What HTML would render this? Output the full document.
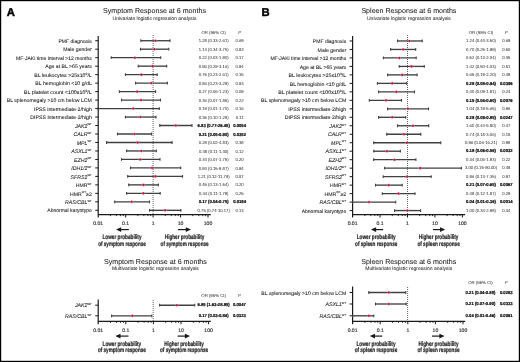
<!DOCTYPE html><html><head><meta charset="utf-8"><style>html,body{margin:0;padding:0;background:#fff;width:520px;height:362px;overflow:hidden}svg{display:block;will-change:transform}</style></head><body><svg width="520" height="362" viewBox="0 0 520 362" font-family='"Liberation Sans", sans-serif' fill="#1a1a1a" text-rendering="geometricPrecision"><g stroke-width="0.15">
<rect x="0" y="0" width="520" height="362" fill="#fff"/>
<rect x="0.6" y="0.6" width="518.8" height="360.8" fill="none" stroke="#000" stroke-width="1.2"/>
<text x="6.80" y="16.30" font-size="11.3" font-weight="bold" fill="#000" stroke="#000" stroke-width="0.45">A</text>
<text x="261.40" y="16.40" font-size="11.3" font-weight="bold" fill="#000" stroke="#000" stroke-width="0.45">B</text>
<text x="154.50" y="13.40" font-size="7.1" text-anchor="middle" stroke="#1a1a1a" stroke-width="0.06">Symptom Response at 6 months</text>
<text x="154.50" y="19.80" font-size="5.04" text-anchor="middle" stroke="#1a1a1a" stroke-width="0.02">Univariate logistic regression analysis</text>
<text x="213.70" y="34.20" font-size="4.3" text-anchor="middle" fill="#333" stroke="#333" stroke-width="0.02">OR (95% CI)</text>
<text x="239.60" y="34.20" font-size="4.3" text-anchor="middle" font-style="italic" fill="#333" stroke="#333" stroke-width="0.02">P</text>
<text x="91.80" y="42.87" font-size="5.15" text-anchor="end" stroke="#1a1a1a" stroke-width="0.07" textLength="33.35" lengthAdjust="spacingAndGlyphs"><tspan>PMF diagnosis</tspan></text>
<text x="213.70" y="42.32" font-size="4.35" text-anchor="middle" fill="#333" stroke="#333" textLength="29.88" lengthAdjust="spacingAndGlyphs" stroke-width="0.02">1.28 (0.33-2.61)</text>
<text x="239.60" y="42.32" font-size="4.35" text-anchor="middle" fill="#333" stroke="#333" textLength="8.17" lengthAdjust="spacingAndGlyphs" stroke-width="0.02">0.69</text>
<text x="91.80" y="51.35" font-size="5.15" text-anchor="end" stroke="#1a1a1a" stroke-width="0.07"><tspan>Male gender</tspan></text>
<text x="213.70" y="50.80" font-size="4.35" text-anchor="middle" fill="#333" stroke="#333" textLength="29.88" lengthAdjust="spacingAndGlyphs" stroke-width="0.02">1.14 (0.34-3.75)</text>
<text x="239.60" y="50.80" font-size="4.35" text-anchor="middle" fill="#333" stroke="#333" textLength="8.17" lengthAdjust="spacingAndGlyphs" stroke-width="0.02">0.83</text>
<text x="91.80" y="59.83" font-size="5.15" text-anchor="end" stroke="#1a1a1a" stroke-width="0.07" textLength="75.81" lengthAdjust="spacingAndGlyphs"><tspan>MF-JAKi time interval &gt;12 months</tspan></text>
<text x="213.70" y="59.28" font-size="4.35" text-anchor="middle" fill="#333" stroke="#333" textLength="29.88" lengthAdjust="spacingAndGlyphs" stroke-width="0.02">0.22 (0.03-1.90)</text>
<text x="239.60" y="59.28" font-size="4.35" text-anchor="middle" fill="#333" stroke="#333" textLength="8.17" lengthAdjust="spacingAndGlyphs" stroke-width="0.02">0.17</text>
<text x="91.80" y="68.31" font-size="5.15" text-anchor="end" stroke="#1a1a1a" stroke-width="0.07"><tspan>Age at BL &gt;65 years</tspan></text>
<text x="213.70" y="67.76" font-size="4.35" text-anchor="middle" fill="#333" stroke="#333" textLength="29.88" lengthAdjust="spacingAndGlyphs" stroke-width="0.02">0.96 (0.29-3.16)</text>
<text x="239.60" y="67.76" font-size="4.35" text-anchor="middle" fill="#333" stroke="#333" textLength="8.17" lengthAdjust="spacingAndGlyphs" stroke-width="0.02">0.94</text>
<text x="91.80" y="76.79" font-size="5.15" text-anchor="end" stroke="#1a1a1a" stroke-width="0.07" textLength="57.58" lengthAdjust="spacingAndGlyphs"><tspan>BL leukocytes &gt;25x10</tspan><tspan dy="-2.1" font-size="3.30" font-style="normal">9</tspan><tspan dy="2.1">/L</tspan></text>
<text x="213.70" y="76.24" font-size="4.35" text-anchor="middle" fill="#333" stroke="#333" textLength="29.88" lengthAdjust="spacingAndGlyphs" stroke-width="0.02">0.75 (0.23-2.61)</text>
<text x="239.60" y="76.24" font-size="4.35" text-anchor="middle" fill="#333" stroke="#333" textLength="8.17" lengthAdjust="spacingAndGlyphs" stroke-width="0.02">0.15</text>
<text x="91.80" y="85.27" font-size="5.15" text-anchor="end" stroke="#1a1a1a" stroke-width="0.07" textLength="56.52" lengthAdjust="spacingAndGlyphs"><tspan>BL hemoglobin &lt;10 g/dL</tspan></text>
<text x="213.70" y="84.72" font-size="4.35" text-anchor="middle" fill="#333" stroke="#333" textLength="29.88" lengthAdjust="spacingAndGlyphs" stroke-width="0.02">0.86 (0.23-3.29)</text>
<text x="239.60" y="84.72" font-size="4.35" text-anchor="middle" fill="#333" stroke="#333" textLength="8.17" lengthAdjust="spacingAndGlyphs" stroke-width="0.02">0.83</text>
<text x="91.80" y="93.75" font-size="5.15" text-anchor="end" stroke="#1a1a1a" stroke-width="0.07" textLength="67.97" lengthAdjust="spacingAndGlyphs"><tspan>BL platelet count &lt;100x10</tspan><tspan dy="-2.1" font-size="3.30" font-style="normal">9</tspan><tspan dy="2.1">/L</tspan></text>
<text x="213.70" y="93.20" font-size="4.35" text-anchor="middle" fill="#333" stroke="#333" textLength="29.88" lengthAdjust="spacingAndGlyphs" stroke-width="0.02">0.27 (0.06-1.23)</text>
<text x="239.60" y="93.20" font-size="4.35" text-anchor="middle" fill="#333" stroke="#333" textLength="8.17" lengthAdjust="spacingAndGlyphs" stroke-width="0.02">0.09</text>
<text x="91.80" y="102.23" font-size="5.15" text-anchor="end" stroke="#1a1a1a" stroke-width="0.07" textLength="85.08" lengthAdjust="spacingAndGlyphs"><tspan>BL splenomegaly &gt;10 cm below LCM</tspan></text>
<text x="213.70" y="101.68" font-size="4.35" text-anchor="middle" fill="#333" stroke="#333" textLength="29.88" lengthAdjust="spacingAndGlyphs" stroke-width="0.02">0.36 (0.07-1.85)</text>
<text x="239.60" y="101.68" font-size="4.35" text-anchor="middle" fill="#333" stroke="#333" textLength="8.17" lengthAdjust="spacingAndGlyphs" stroke-width="0.02">0.22</text>
<text x="91.80" y="110.71" font-size="5.15" text-anchor="end" stroke="#1a1a1a" stroke-width="0.07" textLength="57.84" lengthAdjust="spacingAndGlyphs"><tspan>IPSS intermediate-2/high</tspan></text>
<text x="213.70" y="110.16" font-size="4.35" text-anchor="middle" fill="#333" stroke="#333" textLength="29.88" lengthAdjust="spacingAndGlyphs" stroke-width="0.02">0.19 (0.01-1.70)</text>
<text x="239.60" y="110.16" font-size="4.35" text-anchor="middle" fill="#333" stroke="#333" textLength="8.17" lengthAdjust="spacingAndGlyphs" stroke-width="0.02">0.16</text>
<text x="91.80" y="119.19" font-size="5.15" text-anchor="end" stroke="#1a1a1a" stroke-width="0.07" textLength="61.42" lengthAdjust="spacingAndGlyphs"><tspan>DIPSS intermediate-2/high</tspan></text>
<text x="213.70" y="118.64" font-size="4.35" text-anchor="middle" fill="#333" stroke="#333" textLength="29.88" lengthAdjust="spacingAndGlyphs" stroke-width="0.02">0.35 (0.10-1.28)</text>
<text x="239.60" y="118.64" font-size="4.35" text-anchor="middle" fill="#333" stroke="#333" textLength="7.86" lengthAdjust="spacingAndGlyphs" stroke-width="0.02">0.11</text>
<text x="91.80" y="127.67" font-size="5.15" text-anchor="end" stroke="#1a1a1a" stroke-width="0.07"><tspan font-style="italic" font-size="5.22">JAK2</tspan><tspan dy="-2.4" font-size="2.8" font-style="normal">WT</tspan></text>
<text x="213.70" y="127.12" font-size="4.35" text-anchor="middle" font-weight="bold" fill="#000" stroke="#000" textLength="32.22" lengthAdjust="spacingAndGlyphs" stroke-width="0.16">6.83 (0.77-26.45)</text>
<text x="239.60" y="127.12" font-size="4.35" text-anchor="middle" font-weight="bold" fill="#000" stroke="#000" textLength="12.84" lengthAdjust="spacingAndGlyphs" stroke-width="0.16">0.0054</text>
<text x="91.80" y="136.15" font-size="5.15" text-anchor="end" stroke="#1a1a1a" stroke-width="0.07"><tspan font-style="italic" font-size="5.22">CALR</tspan><tspan dy="-2.4" font-size="2.8" font-style="normal">WT</tspan></text>
<text x="213.70" y="135.60" font-size="4.35" text-anchor="middle" font-weight="bold" fill="#000" stroke="#000" textLength="29.88" lengthAdjust="spacingAndGlyphs" stroke-width="0.16">0.21 (0.05-0.90)</text>
<text x="239.60" y="135.60" font-size="4.35" text-anchor="middle" font-weight="bold" fill="#000" stroke="#000" textLength="12.84" lengthAdjust="spacingAndGlyphs" stroke-width="0.16">0.0352</text>
<text x="91.80" y="144.63" font-size="5.15" text-anchor="end" stroke="#1a1a1a" stroke-width="0.07"><tspan font-style="italic" font-size="5.22">MPL</tspan><tspan dy="-2.4" font-size="2.8" font-style="normal">WT</tspan></text>
<text x="213.70" y="144.08" font-size="4.35" text-anchor="middle" fill="#333" stroke="#333" textLength="29.88" lengthAdjust="spacingAndGlyphs" stroke-width="0.02">0.28 (0.02-4.83)</text>
<text x="239.60" y="144.08" font-size="4.35" text-anchor="middle" fill="#333" stroke="#333" textLength="8.17" lengthAdjust="spacingAndGlyphs" stroke-width="0.02">0.38</text>
<text x="91.80" y="153.11" font-size="5.15" text-anchor="end" stroke="#1a1a1a" stroke-width="0.07"><tspan font-style="italic" font-size="5.22">ASXL1</tspan><tspan dy="-2.4" font-size="2.8" font-style="normal">WT</tspan></text>
<text x="213.70" y="152.56" font-size="4.35" text-anchor="middle" fill="#333" stroke="#333" textLength="29.57" lengthAdjust="spacingAndGlyphs" stroke-width="0.02">0.38 (0.11-1.30)</text>
<text x="239.60" y="152.56" font-size="4.35" text-anchor="middle" fill="#333" stroke="#333" textLength="8.17" lengthAdjust="spacingAndGlyphs" stroke-width="0.02">0.12</text>
<text x="91.80" y="161.59" font-size="5.15" text-anchor="end" stroke="#1a1a1a" stroke-width="0.07"><tspan font-style="italic" font-size="5.22">EZH2</tspan><tspan dy="-2.4" font-size="2.8" font-style="normal">WT</tspan></text>
<text x="213.70" y="161.04" font-size="4.35" text-anchor="middle" fill="#333" stroke="#333" textLength="29.88" lengthAdjust="spacingAndGlyphs" stroke-width="0.02">0.34 (0.07-1.75)</text>
<text x="239.60" y="161.04" font-size="4.35" text-anchor="middle" fill="#333" stroke="#333" textLength="8.17" lengthAdjust="spacingAndGlyphs" stroke-width="0.02">0.20</text>
<text x="91.80" y="170.07" font-size="5.15" text-anchor="end" stroke="#1a1a1a" stroke-width="0.07"><tspan font-style="italic" font-size="5.22">IDH1/2</tspan><tspan dy="-2.4" font-size="2.8" font-style="normal">WT</tspan></text>
<text x="213.70" y="169.52" font-size="4.35" text-anchor="middle" fill="#333" stroke="#333" textLength="29.88" lengthAdjust="spacingAndGlyphs" stroke-width="0.02">0.93 (0.15-9.87)</text>
<text x="239.60" y="169.52" font-size="4.35" text-anchor="middle" fill="#333" stroke="#333" textLength="8.17" lengthAdjust="spacingAndGlyphs" stroke-width="0.02">0.94</text>
<text x="91.80" y="178.55" font-size="5.15" text-anchor="end" stroke="#1a1a1a" stroke-width="0.07"><tspan font-style="italic" font-size="5.22">SFRS2</tspan><tspan dy="-2.4" font-size="2.8" font-style="normal">WT</tspan></text>
<text x="213.70" y="178.00" font-size="4.35" text-anchor="middle" fill="#333" stroke="#333" textLength="31.91" lengthAdjust="spacingAndGlyphs" stroke-width="0.02">1.21 (0.12-11.79)</text>
<text x="239.60" y="178.00" font-size="4.35" text-anchor="middle" fill="#333" stroke="#333" textLength="8.17" lengthAdjust="spacingAndGlyphs" stroke-width="0.02">0.87</text>
<text x="91.80" y="187.03" font-size="5.15" text-anchor="end" stroke="#1a1a1a" stroke-width="0.07"><tspan>HMR</tspan><tspan dy="-2.4" font-size="2.8" font-style="normal">WT</tspan></text>
<text x="213.70" y="186.48" font-size="4.35" text-anchor="middle" fill="#333" stroke="#333" textLength="29.88" lengthAdjust="spacingAndGlyphs" stroke-width="0.02">0.45 (0.13-1.54)</text>
<text x="239.60" y="186.48" font-size="4.35" text-anchor="middle" fill="#333" stroke="#333" textLength="8.17" lengthAdjust="spacingAndGlyphs" stroke-width="0.02">0.20</text>
<text x="91.80" y="195.51" font-size="5.15" text-anchor="end" stroke="#1a1a1a" stroke-width="0.07"><tspan>HMR</tspan><tspan dy="-2.4" font-size="2.8" font-style="normal">WT</tspan><tspan dy="2.4">≥2</tspan></text>
<text x="213.70" y="194.96" font-size="4.35" text-anchor="middle" fill="#333" stroke="#333" textLength="29.57" lengthAdjust="spacingAndGlyphs" stroke-width="0.02">0.44 (0.11-1.79)</text>
<text x="239.60" y="194.96" font-size="4.35" text-anchor="middle" fill="#333" stroke="#333" textLength="8.17" lengthAdjust="spacingAndGlyphs" stroke-width="0.02">0.25</text>
<text x="91.80" y="203.99" font-size="5.15" text-anchor="end" stroke="#1a1a1a" stroke-width="0.07"><tspan font-style="italic" font-size="5.22">RAS/CBL</tspan><tspan dy="-2.4" font-size="2.8" font-style="normal">WT</tspan></text>
<text x="213.70" y="203.44" font-size="4.35" text-anchor="middle" font-weight="bold" fill="#000" stroke="#000" textLength="29.88" lengthAdjust="spacingAndGlyphs" stroke-width="0.16">0.17 (0.04-0.75)</text>
<text x="239.60" y="203.44" font-size="4.35" text-anchor="middle" font-weight="bold" fill="#000" stroke="#000" textLength="12.84" lengthAdjust="spacingAndGlyphs" stroke-width="0.16">0.0194</text>
<text x="91.80" y="212.47" font-size="5.15" text-anchor="end" stroke="#1a1a1a" stroke-width="0.07"><tspan font-size="5.0">Abnormal karyotype</tspan></text>
<text x="213.70" y="211.92" font-size="4.35" text-anchor="middle" fill="#333" stroke="#333" textLength="32.22" lengthAdjust="spacingAndGlyphs" stroke-width="0.02">0.75 (0.74-10.17)</text>
<text x="239.60" y="211.92" font-size="4.35" text-anchor="middle" fill="#333" stroke="#333" textLength="8.17" lengthAdjust="spacingAndGlyphs" stroke-width="0.02">0.13</text>
<line x1="98.2" y1="36.0" x2="98.2" y2="217.50" stroke="#1a1a1a" stroke-width="1.2"/>
<line x1="98.2" y1="214.6" x2="210.8" y2="214.6" stroke="#1a1a1a" stroke-width="1.2"/>
<line x1="95.20" y1="40.72" x2="98.2" y2="40.72" stroke="#1a1a1a" stroke-width="1.0"/>
<line x1="95.20" y1="49.20" x2="98.2" y2="49.20" stroke="#1a1a1a" stroke-width="1.0"/>
<line x1="95.20" y1="57.68" x2="98.2" y2="57.68" stroke="#1a1a1a" stroke-width="1.0"/>
<line x1="95.20" y1="66.16" x2="98.2" y2="66.16" stroke="#1a1a1a" stroke-width="1.0"/>
<line x1="95.20" y1="74.64" x2="98.2" y2="74.64" stroke="#1a1a1a" stroke-width="1.0"/>
<line x1="95.20" y1="83.12" x2="98.2" y2="83.12" stroke="#1a1a1a" stroke-width="1.0"/>
<line x1="95.20" y1="91.60" x2="98.2" y2="91.60" stroke="#1a1a1a" stroke-width="1.0"/>
<line x1="95.20" y1="100.08" x2="98.2" y2="100.08" stroke="#1a1a1a" stroke-width="1.0"/>
<line x1="95.20" y1="108.56" x2="98.2" y2="108.56" stroke="#1a1a1a" stroke-width="1.0"/>
<line x1="95.20" y1="117.04" x2="98.2" y2="117.04" stroke="#1a1a1a" stroke-width="1.0"/>
<line x1="95.20" y1="125.52" x2="98.2" y2="125.52" stroke="#1a1a1a" stroke-width="1.0"/>
<line x1="95.20" y1="134.00" x2="98.2" y2="134.00" stroke="#1a1a1a" stroke-width="1.0"/>
<line x1="95.20" y1="142.48" x2="98.2" y2="142.48" stroke="#1a1a1a" stroke-width="1.0"/>
<line x1="95.20" y1="150.96" x2="98.2" y2="150.96" stroke="#1a1a1a" stroke-width="1.0"/>
<line x1="95.20" y1="159.44" x2="98.2" y2="159.44" stroke="#1a1a1a" stroke-width="1.0"/>
<line x1="95.20" y1="167.92" x2="98.2" y2="167.92" stroke="#1a1a1a" stroke-width="1.0"/>
<line x1="95.20" y1="176.40" x2="98.2" y2="176.40" stroke="#1a1a1a" stroke-width="1.0"/>
<line x1="95.20" y1="184.88" x2="98.2" y2="184.88" stroke="#1a1a1a" stroke-width="1.0"/>
<line x1="95.20" y1="193.36" x2="98.2" y2="193.36" stroke="#1a1a1a" stroke-width="1.0"/>
<line x1="95.20" y1="201.84" x2="98.2" y2="201.84" stroke="#1a1a1a" stroke-width="1.0"/>
<line x1="95.20" y1="210.32" x2="98.2" y2="210.32" stroke="#1a1a1a" stroke-width="1.0"/>
<line x1="110.42" y1="214.6" x2="110.42" y2="216.10" stroke="#1a1a1a" stroke-width="0.9"/>
<line x1="116.40" y1="214.6" x2="116.40" y2="216.10" stroke="#1a1a1a" stroke-width="0.9"/>
<line x1="120.43" y1="214.6" x2="120.43" y2="216.10" stroke="#1a1a1a" stroke-width="0.9"/>
<line x1="123.26" y1="214.6" x2="123.26" y2="216.10" stroke="#1a1a1a" stroke-width="0.9"/>
<line x1="125.65" y1="214.6" x2="125.65" y2="217.50" stroke="#1a1a1a" stroke-width="1.0"/>
<line x1="137.87" y1="214.6" x2="137.87" y2="216.10" stroke="#1a1a1a" stroke-width="0.9"/>
<line x1="143.85" y1="214.6" x2="143.85" y2="216.10" stroke="#1a1a1a" stroke-width="0.9"/>
<line x1="147.88" y1="214.6" x2="147.88" y2="216.10" stroke="#1a1a1a" stroke-width="0.9"/>
<line x1="150.71" y1="214.6" x2="150.71" y2="216.10" stroke="#1a1a1a" stroke-width="0.9"/>
<line x1="153.10" y1="214.6" x2="153.10" y2="217.50" stroke="#1a1a1a" stroke-width="1.0"/>
<line x1="165.32" y1="214.6" x2="165.32" y2="216.10" stroke="#1a1a1a" stroke-width="0.9"/>
<line x1="171.30" y1="214.6" x2="171.30" y2="216.10" stroke="#1a1a1a" stroke-width="0.9"/>
<line x1="175.33" y1="214.6" x2="175.33" y2="216.10" stroke="#1a1a1a" stroke-width="0.9"/>
<line x1="178.16" y1="214.6" x2="178.16" y2="216.10" stroke="#1a1a1a" stroke-width="0.9"/>
<line x1="180.55" y1="214.6" x2="180.55" y2="217.50" stroke="#1a1a1a" stroke-width="1.0"/>
<line x1="192.77" y1="214.6" x2="192.77" y2="216.10" stroke="#1a1a1a" stroke-width="0.9"/>
<line x1="198.75" y1="214.6" x2="198.75" y2="216.10" stroke="#1a1a1a" stroke-width="0.9"/>
<line x1="202.78" y1="214.6" x2="202.78" y2="216.10" stroke="#1a1a1a" stroke-width="0.9"/>
<line x1="205.61" y1="214.6" x2="205.61" y2="216.10" stroke="#1a1a1a" stroke-width="0.9"/>
<line x1="208.00" y1="214.6" x2="208.00" y2="217.50" stroke="#1a1a1a" stroke-width="1.0"/>
<text x="98.20" y="225.35" font-size="5.1" text-anchor="middle" fill="#333" stroke="#333">0.01</text>
<text x="125.65" y="225.35" font-size="5.1" text-anchor="middle" fill="#333" stroke="#333">0.1</text>
<text x="153.10" y="225.35" font-size="5.1" text-anchor="middle" fill="#333" stroke="#333">1</text>
<text x="180.55" y="225.35" font-size="5.1" text-anchor="middle" fill="#333" stroke="#333">10</text>
<text x="208.00" y="225.35" font-size="5.1" text-anchor="middle" fill="#333" stroke="#333">100</text>
<line x1="153.1" y1="35.0" x2="153.1" y2="214.00" stroke="#222" stroke-width="0.8" stroke-dasharray="0.9 1.1"/>
<line x1="140.80" y1="40.72" x2="170.00" y2="40.72" stroke="#404040" stroke-width="1.35"/>
<line x1="140.80" y1="39.32" x2="140.80" y2="42.12" stroke="#404040" stroke-width="1.1"/>
<line x1="170.00" y1="39.32" x2="170.00" y2="42.12" stroke="#404040" stroke-width="1.1"/>
<circle cx="155.40" cy="40.72" r="1.3" fill="#c8002a" stroke="#fff" stroke-width="0.3"/>
<line x1="140.50" y1="49.20" x2="168.80" y2="49.20" stroke="#404040" stroke-width="1.35"/>
<line x1="140.50" y1="47.80" x2="140.50" y2="50.60" stroke="#404040" stroke-width="1.1"/>
<line x1="168.80" y1="47.80" x2="168.80" y2="50.60" stroke="#404040" stroke-width="1.1"/>
<circle cx="154.40" cy="49.20" r="1.3" fill="#c8002a" stroke="#fff" stroke-width="0.3"/>
<line x1="111.20" y1="57.68" x2="160.70" y2="57.68" stroke="#404040" stroke-width="1.35"/>
<line x1="111.20" y1="56.28" x2="111.20" y2="59.08" stroke="#404040" stroke-width="1.1"/>
<line x1="160.70" y1="56.28" x2="160.70" y2="59.08" stroke="#404040" stroke-width="1.1"/>
<circle cx="134.90" cy="57.68" r="1.3" fill="#c8002a" stroke="#fff" stroke-width="0.3"/>
<line x1="138.20" y1="66.16" x2="166.70" y2="66.16" stroke="#404040" stroke-width="1.35"/>
<line x1="138.20" y1="64.76" x2="138.20" y2="67.56" stroke="#404040" stroke-width="1.1"/>
<line x1="166.70" y1="64.76" x2="166.70" y2="67.56" stroke="#404040" stroke-width="1.1"/>
<circle cx="152.60" cy="66.16" r="1.3" fill="#c8002a" stroke="#fff" stroke-width="0.3"/>
<line x1="125.40" y1="74.64" x2="157.20" y2="74.64" stroke="#404040" stroke-width="1.35"/>
<line x1="125.40" y1="73.24" x2="125.40" y2="76.04" stroke="#404040" stroke-width="1.1"/>
<line x1="157.20" y1="73.24" x2="157.20" y2="76.04" stroke="#404040" stroke-width="1.1"/>
<circle cx="141.40" cy="74.64" r="1.3" fill="#c8002a" stroke="#fff" stroke-width="0.3"/>
<line x1="135.60" y1="83.12" x2="167.40" y2="83.12" stroke="#404040" stroke-width="1.35"/>
<line x1="135.60" y1="81.72" x2="135.60" y2="84.52" stroke="#404040" stroke-width="1.1"/>
<line x1="167.40" y1="81.72" x2="167.40" y2="84.52" stroke="#404040" stroke-width="1.1"/>
<circle cx="151.20" cy="83.12" r="1.3" fill="#c8002a" stroke="#fff" stroke-width="0.3"/>
<line x1="119.40" y1="91.60" x2="155.60" y2="91.60" stroke="#404040" stroke-width="1.35"/>
<line x1="119.40" y1="90.20" x2="119.40" y2="93.00" stroke="#404040" stroke-width="1.1"/>
<line x1="155.60" y1="90.20" x2="155.60" y2="93.00" stroke="#404040" stroke-width="1.1"/>
<circle cx="137.20" cy="91.60" r="1.3" fill="#c8002a" stroke="#fff" stroke-width="0.3"/>
<line x1="121.50" y1="100.08" x2="160.50" y2="100.08" stroke="#404040" stroke-width="1.35"/>
<line x1="121.50" y1="98.68" x2="121.50" y2="101.48" stroke="#404040" stroke-width="1.1"/>
<line x1="160.50" y1="98.68" x2="160.50" y2="101.48" stroke="#404040" stroke-width="1.1"/>
<circle cx="141.00" cy="100.08" r="1.3" fill="#c8002a" stroke="#fff" stroke-width="0.3"/>
<line x1="98.20" y1="108.56" x2="159.30" y2="108.56" stroke="#404040" stroke-width="1.35"/>
<line x1="98.20" y1="107.16" x2="98.20" y2="109.96" stroke="#404040" stroke-width="1.1"/>
<line x1="159.30" y1="107.16" x2="159.30" y2="109.96" stroke="#404040" stroke-width="1.1"/>
<circle cx="133.30" cy="108.56" r="1.3" fill="#c8002a" stroke="#fff" stroke-width="0.3"/>
<line x1="125.40" y1="117.04" x2="156.00" y2="117.04" stroke="#404040" stroke-width="1.35"/>
<line x1="125.40" y1="115.64" x2="125.40" y2="118.44" stroke="#404040" stroke-width="1.1"/>
<line x1="156.00" y1="115.64" x2="156.00" y2="118.44" stroke="#404040" stroke-width="1.1"/>
<circle cx="140.50" cy="117.04" r="1.3" fill="#c8002a" stroke="#fff" stroke-width="0.3"/>
<line x1="159.80" y1="125.52" x2="192.00" y2="125.52" stroke="#404040" stroke-width="1.35"/>
<line x1="159.80" y1="124.12" x2="159.80" y2="126.92" stroke="#404040" stroke-width="1.1"/>
<line x1="192.00" y1="124.12" x2="192.00" y2="126.92" stroke="#404040" stroke-width="1.1"/>
<circle cx="175.80" cy="125.52" r="1.3" fill="#c8002a" stroke="#fff" stroke-width="0.3"/>
<line x1="117.50" y1="134.00" x2="151.60" y2="134.00" stroke="#404040" stroke-width="1.35"/>
<line x1="117.50" y1="132.60" x2="117.50" y2="135.40" stroke="#404040" stroke-width="1.1"/>
<line x1="151.60" y1="132.60" x2="151.60" y2="135.40" stroke="#404040" stroke-width="1.1"/>
<circle cx="134.50" cy="134.00" r="1.3" fill="#c8002a" stroke="#fff" stroke-width="0.3"/>
<line x1="106.60" y1="142.48" x2="172.10" y2="142.48" stroke="#404040" stroke-width="1.35"/>
<line x1="106.60" y1="141.08" x2="106.60" y2="143.88" stroke="#404040" stroke-width="1.1"/>
<line x1="172.10" y1="141.08" x2="172.10" y2="143.88" stroke="#404040" stroke-width="1.1"/>
<circle cx="137.70" cy="142.48" r="1.3" fill="#c8002a" stroke="#fff" stroke-width="0.3"/>
<line x1="126.60" y1="150.96" x2="156.30" y2="150.96" stroke="#404040" stroke-width="1.35"/>
<line x1="126.60" y1="149.56" x2="126.60" y2="152.36" stroke="#404040" stroke-width="1.1"/>
<line x1="156.30" y1="149.56" x2="156.30" y2="152.36" stroke="#404040" stroke-width="1.1"/>
<circle cx="141.40" cy="150.96" r="1.3" fill="#c8002a" stroke="#fff" stroke-width="0.3"/>
<line x1="121.50" y1="159.44" x2="160.00" y2="159.44" stroke="#404040" stroke-width="1.35"/>
<line x1="121.50" y1="158.04" x2="121.50" y2="160.84" stroke="#404040" stroke-width="1.1"/>
<line x1="160.00" y1="158.04" x2="160.00" y2="160.84" stroke="#404040" stroke-width="1.1"/>
<circle cx="140.30" cy="159.44" r="1.3" fill="#c8002a" stroke="#fff" stroke-width="0.3"/>
<line x1="130.50" y1="167.92" x2="180.70" y2="167.92" stroke="#404040" stroke-width="1.35"/>
<line x1="130.50" y1="166.52" x2="130.50" y2="169.32" stroke="#404040" stroke-width="1.1"/>
<line x1="180.70" y1="166.52" x2="180.70" y2="169.32" stroke="#404040" stroke-width="1.1"/>
<circle cx="152.10" cy="167.92" r="1.3" fill="#c8002a" stroke="#fff" stroke-width="0.3"/>
<line x1="127.70" y1="176.40" x2="182.50" y2="176.40" stroke="#404040" stroke-width="1.35"/>
<line x1="127.70" y1="175.00" x2="127.70" y2="177.80" stroke="#404040" stroke-width="1.1"/>
<line x1="182.50" y1="175.00" x2="182.50" y2="177.80" stroke="#404040" stroke-width="1.1"/>
<circle cx="155.40" cy="176.40" r="1.3" fill="#c8002a" stroke="#fff" stroke-width="0.3"/>
<line x1="128.70" y1="184.88" x2="158.40" y2="184.88" stroke="#404040" stroke-width="1.35"/>
<line x1="128.70" y1="183.48" x2="128.70" y2="186.28" stroke="#404040" stroke-width="1.1"/>
<line x1="158.40" y1="183.48" x2="158.40" y2="186.28" stroke="#404040" stroke-width="1.1"/>
<circle cx="143.50" cy="184.88" r="1.3" fill="#c8002a" stroke="#fff" stroke-width="0.3"/>
<line x1="126.60" y1="193.36" x2="160.20" y2="193.36" stroke="#404040" stroke-width="1.35"/>
<line x1="126.60" y1="191.96" x2="126.60" y2="194.76" stroke="#404040" stroke-width="1.1"/>
<line x1="160.20" y1="191.96" x2="160.20" y2="194.76" stroke="#404040" stroke-width="1.1"/>
<circle cx="143.30" cy="193.36" r="1.3" fill="#c8002a" stroke="#fff" stroke-width="0.3"/>
<line x1="114.70" y1="201.84" x2="149.50" y2="201.84" stroke="#404040" stroke-width="1.35"/>
<line x1="114.70" y1="200.44" x2="114.70" y2="203.24" stroke="#404040" stroke-width="1.1"/>
<line x1="149.50" y1="200.44" x2="149.50" y2="203.24" stroke="#404040" stroke-width="1.1"/>
<circle cx="131.70" cy="201.84" r="1.3" fill="#c8002a" stroke="#fff" stroke-width="0.3"/>
<line x1="149.50" y1="210.32" x2="180.90" y2="210.32" stroke="#404040" stroke-width="1.35"/>
<line x1="149.50" y1="208.92" x2="149.50" y2="211.72" stroke="#404040" stroke-width="1.1"/>
<line x1="180.90" y1="208.92" x2="180.90" y2="211.72" stroke="#404040" stroke-width="1.1"/>
<circle cx="165.10" cy="210.32" r="1.3" fill="#c8002a" stroke="#fff" stroke-width="0.3"/>
<line x1="119.00" y1="229.6" x2="128.90" y2="229.6" stroke="#1a1a1a" stroke-width="1.2"/>
<path d="M116.00 229.6 L121.20 227.25 L121.20 231.95 Z" fill="#1a1a1a"/>
<line x1="177.90" y1="229.6" x2="188.00" y2="229.6" stroke="#1a1a1a" stroke-width="1.2"/>
<path d="M191.00 229.6 L185.80 227.25 L185.80 231.95 Z" fill="#1a1a1a"/>
<text x="122.00" y="239.30" font-size="6.6" text-anchor="middle" font-weight="bold" fill="#222" stroke="#222" textLength="39.00" lengthAdjust="spacingAndGlyphs" stroke-width="0.2">Lower probability</text>
<text x="122.00" y="245.90" font-size="6.6" text-anchor="middle" font-weight="bold" fill="#222" stroke="#222" textLength="47.60" lengthAdjust="spacingAndGlyphs" stroke-width="0.2">of symptom response</text>
<text x="184.60" y="239.30" font-size="6.6" text-anchor="middle" font-weight="bold" fill="#222" stroke="#222" textLength="39.60" lengthAdjust="spacingAndGlyphs" stroke-width="0.2">Higher probability</text>
<text x="184.60" y="245.90" font-size="6.6" text-anchor="middle" font-weight="bold" fill="#222" stroke="#222" textLength="48.00" lengthAdjust="spacingAndGlyphs" stroke-width="0.2">of symptom response</text>
<text x="408.90" y="13.40" font-size="7.1" text-anchor="middle" stroke="#1a1a1a" stroke-width="0.06">Spleen Response at 6 months</text>
<text x="408.90" y="19.80" font-size="5.04" text-anchor="middle" stroke="#1a1a1a" stroke-width="0.02">Univariate logistic regression analysis</text>
<text x="481.00" y="34.20" font-size="4.3" text-anchor="middle" fill="#333" stroke="#333" stroke-width="0.02">OR (95% CI)</text>
<text x="506.30" y="34.20" font-size="4.3" text-anchor="middle" font-style="italic" fill="#333" stroke="#333" stroke-width="0.02">P</text>
<text x="346.20" y="43.12" font-size="5.15" text-anchor="end" stroke="#1a1a1a" stroke-width="0.07" textLength="33.35" lengthAdjust="spacingAndGlyphs"><tspan>PMF diagnosis</tspan></text>
<text x="481.00" y="42.22" font-size="4.35" text-anchor="middle" fill="#333" stroke="#333" textLength="29.88" lengthAdjust="spacingAndGlyphs" stroke-width="0.02">1.24 (0.44-3.50)</text>
<text x="506.30" y="42.22" font-size="4.35" text-anchor="middle" fill="#333" stroke="#333" textLength="8.17" lengthAdjust="spacingAndGlyphs" stroke-width="0.02">0.69</text>
<text x="346.20" y="51.60" font-size="5.15" text-anchor="end" stroke="#1a1a1a" stroke-width="0.07"><tspan>Male gender</tspan></text>
<text x="481.00" y="50.70" font-size="4.35" text-anchor="middle" fill="#333" stroke="#333" textLength="29.88" lengthAdjust="spacingAndGlyphs" stroke-width="0.02">0.70 (0.25-1.99)</text>
<text x="506.30" y="50.70" font-size="4.35" text-anchor="middle" fill="#333" stroke="#333" textLength="8.17" lengthAdjust="spacingAndGlyphs" stroke-width="0.02">0.50</text>
<text x="346.20" y="60.08" font-size="5.15" text-anchor="end" stroke="#1a1a1a" stroke-width="0.07" textLength="75.81" lengthAdjust="spacingAndGlyphs"><tspan>MF-JAKi time interval &gt;12 months</tspan></text>
<text x="481.00" y="59.18" font-size="4.35" text-anchor="middle" fill="#333" stroke="#333" textLength="29.88" lengthAdjust="spacingAndGlyphs" stroke-width="0.02">0.52 (0.13-2.04)</text>
<text x="506.30" y="59.18" font-size="4.35" text-anchor="middle" fill="#333" stroke="#333" textLength="8.17" lengthAdjust="spacingAndGlyphs" stroke-width="0.02">0.35</text>
<text x="346.20" y="68.56" font-size="5.15" text-anchor="end" stroke="#1a1a1a" stroke-width="0.07"><tspan>Age at BL &gt;65 years</tspan></text>
<text x="481.00" y="67.66" font-size="4.35" text-anchor="middle" fill="#333" stroke="#333" textLength="29.88" lengthAdjust="spacingAndGlyphs" stroke-width="0.02">1.42 (0.50-4.03)</text>
<text x="506.30" y="67.66" font-size="4.35" text-anchor="middle" fill="#333" stroke="#333" textLength="8.17" lengthAdjust="spacingAndGlyphs" stroke-width="0.02">0.51</text>
<text x="346.20" y="77.04" font-size="5.15" text-anchor="end" stroke="#1a1a1a" stroke-width="0.07" textLength="57.58" lengthAdjust="spacingAndGlyphs"><tspan>BL leukocytes &gt;25x10</tspan><tspan dy="-2.1" font-size="3.30" font-style="normal">9</tspan><tspan dy="2.1">/L</tspan></text>
<text x="481.00" y="76.14" font-size="4.35" text-anchor="middle" fill="#333" stroke="#333" textLength="29.88" lengthAdjust="spacingAndGlyphs" stroke-width="0.02">0.65 (0.19-2.20)</text>
<text x="506.30" y="76.14" font-size="4.35" text-anchor="middle" fill="#333" stroke="#333" textLength="8.17" lengthAdjust="spacingAndGlyphs" stroke-width="0.02">0.49</text>
<text x="346.20" y="85.52" font-size="5.15" text-anchor="end" stroke="#1a1a1a" stroke-width="0.07" textLength="56.52" lengthAdjust="spacingAndGlyphs"><tspan>BL hemoglobin &lt;10 g/dL</tspan></text>
<text x="481.00" y="84.62" font-size="4.35" text-anchor="middle" font-weight="bold" fill="#000" stroke="#000" textLength="29.88" lengthAdjust="spacingAndGlyphs" stroke-width="0.16">0.28 (0.08-0.94)</text>
<text x="506.30" y="84.62" font-size="4.35" text-anchor="middle" font-weight="bold" fill="#000" stroke="#000" textLength="12.84" lengthAdjust="spacingAndGlyphs" stroke-width="0.16">0.0396</text>
<text x="346.20" y="94.00" font-size="5.15" text-anchor="end" stroke="#1a1a1a" stroke-width="0.07" textLength="67.97" lengthAdjust="spacingAndGlyphs"><tspan>BL platelet count &lt;100x10</tspan><tspan dy="-2.1" font-size="3.30" font-style="normal">9</tspan><tspan dy="2.1">/L</tspan></text>
<text x="481.00" y="93.10" font-size="4.35" text-anchor="middle" fill="#333" stroke="#333" textLength="29.88" lengthAdjust="spacingAndGlyphs" stroke-width="0.02">0.40 (0.09-1.81)</text>
<text x="506.30" y="93.10" font-size="4.35" text-anchor="middle" fill="#333" stroke="#333" textLength="8.17" lengthAdjust="spacingAndGlyphs" stroke-width="0.02">0.24</text>
<text x="346.20" y="102.48" font-size="5.15" text-anchor="end" stroke="#1a1a1a" stroke-width="0.07" textLength="85.08" lengthAdjust="spacingAndGlyphs"><tspan>BL splenomegaly &gt;10 cm below LCM</tspan></text>
<text x="481.00" y="101.58" font-size="4.35" text-anchor="middle" font-weight="bold" fill="#000" stroke="#000" textLength="29.88" lengthAdjust="spacingAndGlyphs" stroke-width="0.16">0.15 (0.04-0.60)</text>
<text x="506.30" y="101.58" font-size="4.35" text-anchor="middle" font-weight="bold" fill="#000" stroke="#000" textLength="12.84" lengthAdjust="spacingAndGlyphs" stroke-width="0.16">0.0076</text>
<text x="346.20" y="110.96" font-size="5.15" text-anchor="end" stroke="#1a1a1a" stroke-width="0.07" textLength="57.84" lengthAdjust="spacingAndGlyphs"><tspan>IPSS intermediate-2/high</tspan></text>
<text x="481.00" y="110.06" font-size="4.35" text-anchor="middle" fill="#333" stroke="#333" textLength="29.88" lengthAdjust="spacingAndGlyphs" stroke-width="0.02">1.04 (0.19-5.65)</text>
<text x="506.30" y="110.06" font-size="4.35" text-anchor="middle" fill="#333" stroke="#333" textLength="8.17" lengthAdjust="spacingAndGlyphs" stroke-width="0.02">0.96</text>
<text x="346.20" y="119.44" font-size="5.15" text-anchor="end" stroke="#1a1a1a" stroke-width="0.07" textLength="61.42" lengthAdjust="spacingAndGlyphs"><tspan>DIPSS intermediate-2/high</tspan></text>
<text x="481.00" y="118.54" font-size="4.35" text-anchor="middle" font-weight="bold" fill="#000" stroke="#000" textLength="29.88" lengthAdjust="spacingAndGlyphs" stroke-width="0.16">0.28 (0.09-0.85)</text>
<text x="506.30" y="118.54" font-size="4.35" text-anchor="middle" font-weight="bold" fill="#000" stroke="#000" textLength="12.84" lengthAdjust="spacingAndGlyphs" stroke-width="0.16">0.0247</text>
<text x="346.20" y="127.92" font-size="5.15" text-anchor="end" stroke="#1a1a1a" stroke-width="0.07"><tspan font-style="italic" font-size="5.22">JAK2</tspan><tspan dy="-2.4" font-size="2.8" font-style="normal">WT</tspan></text>
<text x="481.00" y="127.02" font-size="4.35" text-anchor="middle" fill="#333" stroke="#333" textLength="29.88" lengthAdjust="spacingAndGlyphs" stroke-width="0.02">1.60 (0.44-5.80)</text>
<text x="506.30" y="127.02" font-size="4.35" text-anchor="middle" fill="#333" stroke="#333" textLength="8.17" lengthAdjust="spacingAndGlyphs" stroke-width="0.02">0.47</text>
<text x="346.20" y="136.40" font-size="5.15" text-anchor="end" stroke="#1a1a1a" stroke-width="0.07"><tspan font-style="italic" font-size="5.22">CALR</tspan><tspan dy="-2.4" font-size="2.8" font-style="normal">WT</tspan></text>
<text x="481.00" y="135.50" font-size="4.35" text-anchor="middle" fill="#333" stroke="#333" textLength="29.88" lengthAdjust="spacingAndGlyphs" stroke-width="0.02">0.74 (0.18-3.06)</text>
<text x="506.30" y="135.50" font-size="4.35" text-anchor="middle" fill="#333" stroke="#333" textLength="8.17" lengthAdjust="spacingAndGlyphs" stroke-width="0.02">0.18</text>
<text x="346.20" y="144.88" font-size="5.15" text-anchor="end" stroke="#1a1a1a" stroke-width="0.07"><tspan font-style="italic" font-size="5.22">MPL</tspan><tspan dy="-2.4" font-size="2.8" font-style="normal">WT</tspan></text>
<text x="481.00" y="143.98" font-size="4.35" text-anchor="middle" fill="#333" stroke="#333" textLength="32.22" lengthAdjust="spacingAndGlyphs" stroke-width="0.02">0.96 (0.06-16.21)</text>
<text x="506.30" y="143.98" font-size="4.35" text-anchor="middle" fill="#333" stroke="#333" textLength="8.17" lengthAdjust="spacingAndGlyphs" stroke-width="0.02">0.98</text>
<text x="346.20" y="153.36" font-size="5.15" text-anchor="end" stroke="#1a1a1a" stroke-width="0.07"><tspan font-style="italic" font-size="5.22">ASXL1</tspan><tspan dy="-2.4" font-size="2.8" font-style="normal">WT</tspan></text>
<text x="481.00" y="152.46" font-size="4.35" text-anchor="middle" font-weight="bold" fill="#000" stroke="#000" textLength="29.88" lengthAdjust="spacingAndGlyphs" stroke-width="0.16">0.18 (0.06-0.56)</text>
<text x="506.30" y="152.46" font-size="4.35" text-anchor="middle" font-weight="bold" fill="#000" stroke="#000" textLength="12.84" lengthAdjust="spacingAndGlyphs" stroke-width="0.16">0.0032</text>
<text x="346.20" y="161.84" font-size="5.15" text-anchor="end" stroke="#1a1a1a" stroke-width="0.07"><tspan font-style="italic" font-size="5.22">EZH2</tspan><tspan dy="-2.4" font-size="2.8" font-style="normal">WT</tspan></text>
<text x="481.00" y="160.94" font-size="4.35" text-anchor="middle" fill="#333" stroke="#333" textLength="29.88" lengthAdjust="spacingAndGlyphs" stroke-width="0.02">0.34 (0.06-1.93)</text>
<text x="506.30" y="160.94" font-size="4.35" text-anchor="middle" fill="#333" stroke="#333" textLength="8.17" lengthAdjust="spacingAndGlyphs" stroke-width="0.02">0.22</text>
<text x="346.20" y="170.32" font-size="5.15" text-anchor="end" stroke="#1a1a1a" stroke-width="0.07"><tspan font-style="italic" font-size="5.22">IDH1/2</tspan><tspan dy="-2.4" font-size="2.8" font-style="normal">WT</tspan></text>
<text x="481.00" y="169.42" font-size="4.35" text-anchor="middle" fill="#333" stroke="#333" textLength="32.22" lengthAdjust="spacingAndGlyphs" stroke-width="0.02">3.00 (0.15-90.00)</text>
<text x="506.30" y="169.42" font-size="4.35" text-anchor="middle" fill="#333" stroke="#333" textLength="8.17" lengthAdjust="spacingAndGlyphs" stroke-width="0.02">0.48</text>
<text x="346.20" y="178.80" font-size="5.15" text-anchor="end" stroke="#1a1a1a" stroke-width="0.07"><tspan font-style="italic" font-size="5.22">SFRS2</tspan><tspan dy="-2.4" font-size="2.8" font-style="normal">WT</tspan></text>
<text x="481.00" y="177.90" font-size="4.35" text-anchor="middle" fill="#333" stroke="#333" textLength="29.88" lengthAdjust="spacingAndGlyphs" stroke-width="0.02">0.96 (0.13-7.35)</text>
<text x="506.30" y="177.90" font-size="4.35" text-anchor="middle" fill="#333" stroke="#333" textLength="8.17" lengthAdjust="spacingAndGlyphs" stroke-width="0.02">0.97</text>
<text x="346.20" y="187.28" font-size="5.15" text-anchor="end" stroke="#1a1a1a" stroke-width="0.07"><tspan>HMR</tspan><tspan dy="-2.4" font-size="2.8" font-style="normal">WT</tspan></text>
<text x="481.00" y="186.38" font-size="4.35" text-anchor="middle" font-weight="bold" fill="#000" stroke="#000" textLength="29.88" lengthAdjust="spacingAndGlyphs" stroke-width="0.16">0.21 (0.07-0.65)</text>
<text x="506.30" y="186.38" font-size="4.35" text-anchor="middle" font-weight="bold" fill="#000" stroke="#000" textLength="12.84" lengthAdjust="spacingAndGlyphs" stroke-width="0.16">0.0067</text>
<text x="346.20" y="195.76" font-size="5.15" text-anchor="end" stroke="#1a1a1a" stroke-width="0.07"><tspan>HMR</tspan><tspan dy="-2.4" font-size="2.8" font-style="normal">WT</tspan><tspan dy="2.4">≥2</tspan></text>
<text x="481.00" y="194.86" font-size="4.35" text-anchor="middle" fill="#333" stroke="#333" textLength="29.88" lengthAdjust="spacingAndGlyphs" stroke-width="0.02">0.48 (0.12-1.87)</text>
<text x="506.30" y="194.86" font-size="4.35" text-anchor="middle" fill="#333" stroke="#333" textLength="8.17" lengthAdjust="spacingAndGlyphs" stroke-width="0.02">0.29</text>
<text x="346.20" y="204.24" font-size="5.15" text-anchor="end" stroke="#1a1a1a" stroke-width="0.07"><tspan font-style="italic" font-size="5.22">RAS/CBL</tspan><tspan dy="-2.4" font-size="2.8" font-style="normal">WT</tspan></text>
<text x="481.00" y="203.34" font-size="4.35" text-anchor="middle" font-weight="bold" fill="#000" stroke="#000" textLength="29.88" lengthAdjust="spacingAndGlyphs" stroke-width="0.16">0.04 (0.01-0.36)</text>
<text x="506.30" y="203.34" font-size="4.35" text-anchor="middle" font-weight="bold" fill="#000" stroke="#000" textLength="12.84" lengthAdjust="spacingAndGlyphs" stroke-width="0.16">0.0014</text>
<text x="346.20" y="212.72" font-size="5.15" text-anchor="end" stroke="#1a1a1a" stroke-width="0.07"><tspan font-size="5.0">Abnormal karyotype</tspan></text>
<text x="481.00" y="211.82" font-size="4.35" text-anchor="middle" fill="#333" stroke="#333" textLength="29.88" lengthAdjust="spacingAndGlyphs" stroke-width="0.02">1.00 (0.34-2.98)</text>
<text x="506.30" y="211.82" font-size="4.35" text-anchor="middle" fill="#333" stroke="#333" textLength="8.17" lengthAdjust="spacingAndGlyphs" stroke-width="0.02">0.34</text>
<line x1="352.6" y1="36.0" x2="352.6" y2="217.50" stroke="#1a1a1a" stroke-width="1.2"/>
<line x1="352.6" y1="214.6" x2="465.20000000000005" y2="214.6" stroke="#1a1a1a" stroke-width="1.2"/>
<line x1="349.60" y1="40.97" x2="352.6" y2="40.97" stroke="#1a1a1a" stroke-width="1.0"/>
<line x1="349.60" y1="49.45" x2="352.6" y2="49.45" stroke="#1a1a1a" stroke-width="1.0"/>
<line x1="349.60" y1="57.93" x2="352.6" y2="57.93" stroke="#1a1a1a" stroke-width="1.0"/>
<line x1="349.60" y1="66.41" x2="352.6" y2="66.41" stroke="#1a1a1a" stroke-width="1.0"/>
<line x1="349.60" y1="74.89" x2="352.6" y2="74.89" stroke="#1a1a1a" stroke-width="1.0"/>
<line x1="349.60" y1="83.37" x2="352.6" y2="83.37" stroke="#1a1a1a" stroke-width="1.0"/>
<line x1="349.60" y1="91.85" x2="352.6" y2="91.85" stroke="#1a1a1a" stroke-width="1.0"/>
<line x1="349.60" y1="100.33" x2="352.6" y2="100.33" stroke="#1a1a1a" stroke-width="1.0"/>
<line x1="349.60" y1="108.81" x2="352.6" y2="108.81" stroke="#1a1a1a" stroke-width="1.0"/>
<line x1="349.60" y1="117.29" x2="352.6" y2="117.29" stroke="#1a1a1a" stroke-width="1.0"/>
<line x1="349.60" y1="125.77" x2="352.6" y2="125.77" stroke="#1a1a1a" stroke-width="1.0"/>
<line x1="349.60" y1="134.25" x2="352.6" y2="134.25" stroke="#1a1a1a" stroke-width="1.0"/>
<line x1="349.60" y1="142.73" x2="352.6" y2="142.73" stroke="#1a1a1a" stroke-width="1.0"/>
<line x1="349.60" y1="151.21" x2="352.6" y2="151.21" stroke="#1a1a1a" stroke-width="1.0"/>
<line x1="349.60" y1="159.69" x2="352.6" y2="159.69" stroke="#1a1a1a" stroke-width="1.0"/>
<line x1="349.60" y1="168.17" x2="352.6" y2="168.17" stroke="#1a1a1a" stroke-width="1.0"/>
<line x1="349.60" y1="176.65" x2="352.6" y2="176.65" stroke="#1a1a1a" stroke-width="1.0"/>
<line x1="349.60" y1="185.13" x2="352.6" y2="185.13" stroke="#1a1a1a" stroke-width="1.0"/>
<line x1="349.60" y1="193.61" x2="352.6" y2="193.61" stroke="#1a1a1a" stroke-width="1.0"/>
<line x1="349.60" y1="202.09" x2="352.6" y2="202.09" stroke="#1a1a1a" stroke-width="1.0"/>
<line x1="349.60" y1="210.57" x2="352.6" y2="210.57" stroke="#1a1a1a" stroke-width="1.0"/>
<line x1="364.82" y1="214.6" x2="364.82" y2="216.10" stroke="#1a1a1a" stroke-width="0.9"/>
<line x1="370.80" y1="214.6" x2="370.80" y2="216.10" stroke="#1a1a1a" stroke-width="0.9"/>
<line x1="374.83" y1="214.6" x2="374.83" y2="216.10" stroke="#1a1a1a" stroke-width="0.9"/>
<line x1="377.66" y1="214.6" x2="377.66" y2="216.10" stroke="#1a1a1a" stroke-width="0.9"/>
<line x1="380.05" y1="214.6" x2="380.05" y2="217.50" stroke="#1a1a1a" stroke-width="1.0"/>
<line x1="392.27" y1="214.6" x2="392.27" y2="216.10" stroke="#1a1a1a" stroke-width="0.9"/>
<line x1="398.25" y1="214.6" x2="398.25" y2="216.10" stroke="#1a1a1a" stroke-width="0.9"/>
<line x1="402.28" y1="214.6" x2="402.28" y2="216.10" stroke="#1a1a1a" stroke-width="0.9"/>
<line x1="405.11" y1="214.6" x2="405.11" y2="216.10" stroke="#1a1a1a" stroke-width="0.9"/>
<line x1="407.50" y1="214.6" x2="407.50" y2="217.50" stroke="#1a1a1a" stroke-width="1.0"/>
<line x1="419.72" y1="214.6" x2="419.72" y2="216.10" stroke="#1a1a1a" stroke-width="0.9"/>
<line x1="425.70" y1="214.6" x2="425.70" y2="216.10" stroke="#1a1a1a" stroke-width="0.9"/>
<line x1="429.73" y1="214.6" x2="429.73" y2="216.10" stroke="#1a1a1a" stroke-width="0.9"/>
<line x1="432.56" y1="214.6" x2="432.56" y2="216.10" stroke="#1a1a1a" stroke-width="0.9"/>
<line x1="434.95" y1="214.6" x2="434.95" y2="217.50" stroke="#1a1a1a" stroke-width="1.0"/>
<line x1="447.17" y1="214.6" x2="447.17" y2="216.10" stroke="#1a1a1a" stroke-width="0.9"/>
<line x1="453.15" y1="214.6" x2="453.15" y2="216.10" stroke="#1a1a1a" stroke-width="0.9"/>
<line x1="457.18" y1="214.6" x2="457.18" y2="216.10" stroke="#1a1a1a" stroke-width="0.9"/>
<line x1="460.01" y1="214.6" x2="460.01" y2="216.10" stroke="#1a1a1a" stroke-width="0.9"/>
<line x1="462.40" y1="214.6" x2="462.40" y2="217.50" stroke="#1a1a1a" stroke-width="1.0"/>
<text x="352.60" y="225.35" font-size="5.1" text-anchor="middle" fill="#333" stroke="#333">0.01</text>
<text x="380.05" y="225.35" font-size="5.1" text-anchor="middle" fill="#333" stroke="#333">0.1</text>
<text x="407.50" y="225.35" font-size="5.1" text-anchor="middle" fill="#333" stroke="#333">1</text>
<text x="434.95" y="225.35" font-size="5.1" text-anchor="middle" fill="#333" stroke="#333">10</text>
<text x="462.40" y="225.35" font-size="5.1" text-anchor="middle" fill="#333" stroke="#333">100</text>
<line x1="407.5" y1="35.0" x2="407.5" y2="214.00" stroke="#222" stroke-width="0.8" stroke-dasharray="0.9 1.1"/>
<line x1="397.60" y1="40.97" x2="422.20" y2="40.97" stroke="#404040" stroke-width="1.35"/>
<line x1="397.60" y1="39.57" x2="397.60" y2="42.37" stroke="#404040" stroke-width="1.1"/>
<line x1="422.20" y1="39.57" x2="422.20" y2="42.37" stroke="#404040" stroke-width="1.1"/>
<circle cx="409.40" cy="40.97" r="1.3" fill="#c8002a" stroke="#fff" stroke-width="0.3"/>
<line x1="390.60" y1="49.45" x2="415.70" y2="49.45" stroke="#404040" stroke-width="1.35"/>
<line x1="390.60" y1="48.05" x2="390.60" y2="50.85" stroke="#404040" stroke-width="1.1"/>
<line x1="415.70" y1="48.05" x2="415.70" y2="50.85" stroke="#404040" stroke-width="1.1"/>
<circle cx="403.20" cy="49.45" r="1.3" fill="#c8002a" stroke="#fff" stroke-width="0.3"/>
<line x1="383.40" y1="57.93" x2="416.20" y2="57.93" stroke="#404040" stroke-width="1.35"/>
<line x1="383.40" y1="56.53" x2="383.40" y2="59.33" stroke="#404040" stroke-width="1.1"/>
<line x1="416.20" y1="56.53" x2="416.20" y2="59.33" stroke="#404040" stroke-width="1.1"/>
<circle cx="399.40" cy="57.93" r="1.3" fill="#c8002a" stroke="#fff" stroke-width="0.3"/>
<line x1="399.20" y1="66.41" x2="424.30" y2="66.41" stroke="#404040" stroke-width="1.35"/>
<line x1="399.20" y1="65.01" x2="399.20" y2="67.81" stroke="#404040" stroke-width="1.1"/>
<line x1="424.30" y1="65.01" x2="424.30" y2="67.81" stroke="#404040" stroke-width="1.1"/>
<circle cx="411.50" cy="66.41" r="1.3" fill="#c8002a" stroke="#fff" stroke-width="0.3"/>
<line x1="387.60" y1="74.89" x2="417.10" y2="74.89" stroke="#404040" stroke-width="1.35"/>
<line x1="387.60" y1="73.49" x2="387.60" y2="76.29" stroke="#404040" stroke-width="1.1"/>
<line x1="417.10" y1="73.49" x2="417.10" y2="76.29" stroke="#404040" stroke-width="1.1"/>
<circle cx="402.20" cy="74.89" r="1.3" fill="#c8002a" stroke="#fff" stroke-width="0.3"/>
<line x1="377.40" y1="83.37" x2="406.60" y2="83.37" stroke="#404040" stroke-width="1.35"/>
<line x1="377.40" y1="81.97" x2="377.40" y2="84.77" stroke="#404040" stroke-width="1.1"/>
<line x1="406.60" y1="81.97" x2="406.60" y2="84.77" stroke="#404040" stroke-width="1.1"/>
<circle cx="392.20" cy="83.37" r="1.3" fill="#c8002a" stroke="#fff" stroke-width="0.3"/>
<line x1="378.60" y1="91.85" x2="414.50" y2="91.85" stroke="#404040" stroke-width="1.35"/>
<line x1="378.60" y1="90.45" x2="378.60" y2="93.25" stroke="#404040" stroke-width="1.1"/>
<line x1="414.50" y1="90.45" x2="414.50" y2="93.25" stroke="#404040" stroke-width="1.1"/>
<circle cx="396.40" cy="91.85" r="1.3" fill="#c8002a" stroke="#fff" stroke-width="0.3"/>
<line x1="369.30" y1="100.33" x2="401.50" y2="100.33" stroke="#404040" stroke-width="1.35"/>
<line x1="369.30" y1="98.93" x2="369.30" y2="101.73" stroke="#404040" stroke-width="1.1"/>
<line x1="401.50" y1="98.93" x2="401.50" y2="101.73" stroke="#404040" stroke-width="1.1"/>
<circle cx="386.00" cy="100.33" r="1.3" fill="#c8002a" stroke="#fff" stroke-width="0.3"/>
<line x1="387.60" y1="108.81" x2="428.50" y2="108.81" stroke="#404040" stroke-width="1.35"/>
<line x1="387.60" y1="107.41" x2="387.60" y2="110.21" stroke="#404040" stroke-width="1.1"/>
<line x1="428.50" y1="107.41" x2="428.50" y2="110.21" stroke="#404040" stroke-width="1.1"/>
<circle cx="408.00" cy="108.81" r="1.3" fill="#c8002a" stroke="#fff" stroke-width="0.3"/>
<line x1="378.60" y1="117.29" x2="405.70" y2="117.29" stroke="#404040" stroke-width="1.35"/>
<line x1="378.60" y1="115.89" x2="378.60" y2="118.69" stroke="#404040" stroke-width="1.1"/>
<line x1="405.70" y1="115.89" x2="405.70" y2="118.69" stroke="#404040" stroke-width="1.1"/>
<circle cx="392.20" cy="117.29" r="1.3" fill="#c8002a" stroke="#fff" stroke-width="0.3"/>
<line x1="397.60" y1="125.77" x2="428.70" y2="125.77" stroke="#404040" stroke-width="1.35"/>
<line x1="397.60" y1="124.37" x2="397.60" y2="127.17" stroke="#404040" stroke-width="1.1"/>
<line x1="428.70" y1="124.37" x2="428.70" y2="127.17" stroke="#404040" stroke-width="1.1"/>
<circle cx="412.90" cy="125.77" r="1.3" fill="#c8002a" stroke="#fff" stroke-width="0.3"/>
<line x1="386.70" y1="134.25" x2="420.80" y2="134.25" stroke="#404040" stroke-width="1.35"/>
<line x1="386.70" y1="132.85" x2="386.70" y2="135.65" stroke="#404040" stroke-width="1.1"/>
<line x1="420.80" y1="132.85" x2="420.80" y2="135.65" stroke="#404040" stroke-width="1.1"/>
<circle cx="403.90" cy="134.25" r="1.3" fill="#c8002a" stroke="#fff" stroke-width="0.3"/>
<line x1="373.70" y1="142.73" x2="440.80" y2="142.73" stroke="#404040" stroke-width="1.35"/>
<line x1="373.70" y1="141.33" x2="373.70" y2="144.13" stroke="#404040" stroke-width="1.1"/>
<line x1="440.80" y1="141.33" x2="440.80" y2="144.13" stroke="#404040" stroke-width="1.1"/>
<circle cx="406.90" cy="142.73" r="1.3" fill="#c8002a" stroke="#fff" stroke-width="0.3"/>
<line x1="373.70" y1="151.21" x2="400.40" y2="151.21" stroke="#404040" stroke-width="1.35"/>
<line x1="373.70" y1="149.81" x2="373.70" y2="152.61" stroke="#404040" stroke-width="1.1"/>
<line x1="400.40" y1="149.81" x2="400.40" y2="152.61" stroke="#404040" stroke-width="1.1"/>
<circle cx="386.90" cy="151.21" r="1.3" fill="#c8002a" stroke="#fff" stroke-width="0.3"/>
<line x1="373.70" y1="159.69" x2="415.90" y2="159.69" stroke="#404040" stroke-width="1.35"/>
<line x1="373.70" y1="158.29" x2="373.70" y2="161.09" stroke="#404040" stroke-width="1.1"/>
<line x1="415.90" y1="158.29" x2="415.90" y2="161.09" stroke="#404040" stroke-width="1.1"/>
<circle cx="394.60" cy="159.69" r="1.3" fill="#c8002a" stroke="#fff" stroke-width="0.3"/>
<line x1="384.60" y1="168.17" x2="461.40" y2="168.17" stroke="#404040" stroke-width="1.35"/>
<line x1="384.60" y1="166.77" x2="384.60" y2="169.57" stroke="#404040" stroke-width="1.1"/>
<line x1="461.40" y1="166.77" x2="461.40" y2="169.57" stroke="#404040" stroke-width="1.1"/>
<circle cx="420.30" cy="168.17" r="1.3" fill="#c8002a" stroke="#fff" stroke-width="0.3"/>
<line x1="383.20" y1="176.65" x2="431.20" y2="176.65" stroke="#404040" stroke-width="1.35"/>
<line x1="383.20" y1="175.25" x2="383.20" y2="178.05" stroke="#404040" stroke-width="1.1"/>
<line x1="431.20" y1="175.25" x2="431.20" y2="178.05" stroke="#404040" stroke-width="1.1"/>
<circle cx="406.90" cy="176.65" r="1.3" fill="#c8002a" stroke="#fff" stroke-width="0.3"/>
<line x1="375.50" y1="185.13" x2="402.20" y2="185.13" stroke="#404040" stroke-width="1.35"/>
<line x1="375.50" y1="183.73" x2="375.50" y2="186.53" stroke="#404040" stroke-width="1.1"/>
<line x1="402.20" y1="183.73" x2="402.20" y2="186.53" stroke="#404040" stroke-width="1.1"/>
<circle cx="388.80" cy="185.13" r="1.3" fill="#c8002a" stroke="#fff" stroke-width="0.3"/>
<line x1="382.30" y1="193.61" x2="415.00" y2="193.61" stroke="#404040" stroke-width="1.35"/>
<line x1="382.30" y1="192.21" x2="382.30" y2="195.01" stroke="#404040" stroke-width="1.1"/>
<line x1="415.00" y1="192.21" x2="415.00" y2="195.01" stroke="#404040" stroke-width="1.1"/>
<circle cx="398.50" cy="193.61" r="1.3" fill="#c8002a" stroke="#fff" stroke-width="0.3"/>
<line x1="352.60" y1="202.09" x2="395.70" y2="202.09" stroke="#404040" stroke-width="1.35"/>
<line x1="352.60" y1="200.69" x2="352.60" y2="203.49" stroke="#404040" stroke-width="1.1"/>
<line x1="395.70" y1="200.69" x2="395.70" y2="203.49" stroke="#404040" stroke-width="1.1"/>
<circle cx="369.00" cy="202.09" r="1.3" fill="#c8002a" stroke="#fff" stroke-width="0.3"/>
<line x1="394.60" y1="210.57" x2="420.60" y2="210.57" stroke="#404040" stroke-width="1.35"/>
<line x1="394.60" y1="209.17" x2="394.60" y2="211.97" stroke="#404040" stroke-width="1.1"/>
<line x1="420.60" y1="209.17" x2="420.60" y2="211.97" stroke="#404040" stroke-width="1.1"/>
<circle cx="407.30" cy="210.57" r="1.3" fill="#c8002a" stroke="#fff" stroke-width="0.3"/>
<line x1="373.90" y1="229.6" x2="383.20" y2="229.6" stroke="#1a1a1a" stroke-width="1.2"/>
<path d="M370.90 229.6 L376.10 227.25 L376.10 231.95 Z" fill="#1a1a1a"/>
<line x1="432.90" y1="229.6" x2="442.20" y2="229.6" stroke="#1a1a1a" stroke-width="1.2"/>
<path d="M445.20 229.6 L440.00 227.25 L440.00 231.95 Z" fill="#1a1a1a"/>
<text x="376.20" y="239.30" font-size="6.6" text-anchor="middle" font-weight="bold" fill="#222" stroke="#222" textLength="39.00" lengthAdjust="spacingAndGlyphs" stroke-width="0.2">Lower probability</text>
<text x="376.20" y="245.90" font-size="6.6" text-anchor="middle" font-weight="bold" fill="#222" stroke="#222" textLength="42.20" lengthAdjust="spacingAndGlyphs" stroke-width="0.2">of spleen response</text>
<text x="438.60" y="239.30" font-size="6.6" text-anchor="middle" font-weight="bold" fill="#222" stroke="#222" textLength="39.60" lengthAdjust="spacingAndGlyphs" stroke-width="0.2">Higher probability</text>
<text x="438.60" y="245.90" font-size="6.6" text-anchor="middle" font-weight="bold" fill="#222" stroke="#222" textLength="42.40" lengthAdjust="spacingAndGlyphs" stroke-width="0.2">of spleen response</text>
<text x="155.40" y="263.90" font-size="7.1" text-anchor="middle" stroke="#1a1a1a" stroke-width="0.06">Symptom Response at 6 months</text>
<text x="155.40" y="270.20" font-size="5.04" text-anchor="middle" stroke="#1a1a1a" stroke-width="0.02">Multivariate logistic regression analysis</text>
<text x="213.60" y="297.30" font-size="4.3" text-anchor="middle" fill="#333" stroke="#333" stroke-width="0.02">OR (95% CI)</text>
<text x="239.40" y="297.30" font-size="4.3" text-anchor="middle" font-style="italic" fill="#333" stroke="#333" stroke-width="0.02">P</text>
<text x="91.80" y="307.35" font-size="5.15" text-anchor="end" stroke="#1a1a1a" stroke-width="0.07"><tspan font-style="italic" font-size="5.22">JAK2</tspan><tspan dy="-2.4" font-size="2.8" font-style="normal">WT</tspan></text>
<text x="213.60" y="306.45" font-size="4.35" text-anchor="middle" font-weight="bold" fill="#000" stroke="#000" textLength="32.22" lengthAdjust="spacingAndGlyphs" stroke-width="0.16">6.85 (1.63-28.85)</text>
<text x="239.40" y="306.45" font-size="4.35" text-anchor="middle" font-weight="bold" fill="#000" stroke="#000" textLength="12.84" lengthAdjust="spacingAndGlyphs" stroke-width="0.16">0.0047</text>
<text x="91.80" y="317.95" font-size="5.15" text-anchor="end" stroke="#1a1a1a" stroke-width="0.07"><tspan font-style="italic" font-size="5.22">RAS/CBL</tspan><tspan dy="-2.4" font-size="2.8" font-style="normal">WT</tspan></text>
<text x="213.60" y="317.05" font-size="4.35" text-anchor="middle" font-weight="bold" fill="#000" stroke="#000" textLength="29.88" lengthAdjust="spacingAndGlyphs" stroke-width="0.16">0.17 (0.03-0.84)</text>
<text x="239.40" y="317.05" font-size="4.35" text-anchor="middle" font-weight="bold" fill="#000" stroke="#000" textLength="12.84" lengthAdjust="spacingAndGlyphs" stroke-width="0.16">0.0323</text>
<line x1="98.2" y1="299.5" x2="98.2" y2="324.25" stroke="#1a1a1a" stroke-width="1.2"/>
<line x1="98.2" y1="321.35" x2="210.8" y2="321.35" stroke="#1a1a1a" stroke-width="1.2"/>
<line x1="95.20" y1="305.20" x2="98.2" y2="305.20" stroke="#1a1a1a" stroke-width="1.0"/>
<line x1="95.20" y1="315.80" x2="98.2" y2="315.80" stroke="#1a1a1a" stroke-width="1.0"/>
<line x1="110.48" y1="321.35" x2="110.48" y2="322.85" stroke="#1a1a1a" stroke-width="0.9"/>
<line x1="116.50" y1="321.35" x2="116.50" y2="322.85" stroke="#1a1a1a" stroke-width="0.9"/>
<line x1="120.56" y1="321.35" x2="120.56" y2="322.85" stroke="#1a1a1a" stroke-width="0.9"/>
<line x1="123.40" y1="321.35" x2="123.40" y2="322.85" stroke="#1a1a1a" stroke-width="0.9"/>
<line x1="125.80" y1="321.35" x2="125.80" y2="324.25" stroke="#1a1a1a" stroke-width="1.0"/>
<line x1="138.08" y1="321.35" x2="138.08" y2="322.85" stroke="#1a1a1a" stroke-width="0.9"/>
<line x1="144.10" y1="321.35" x2="144.10" y2="322.85" stroke="#1a1a1a" stroke-width="0.9"/>
<line x1="148.16" y1="321.35" x2="148.16" y2="322.85" stroke="#1a1a1a" stroke-width="0.9"/>
<line x1="151.00" y1="321.35" x2="151.00" y2="322.85" stroke="#1a1a1a" stroke-width="0.9"/>
<line x1="153.40" y1="321.35" x2="153.40" y2="324.25" stroke="#1a1a1a" stroke-width="1.0"/>
<line x1="165.68" y1="321.35" x2="165.68" y2="322.85" stroke="#1a1a1a" stroke-width="0.9"/>
<line x1="171.70" y1="321.35" x2="171.70" y2="322.85" stroke="#1a1a1a" stroke-width="0.9"/>
<line x1="175.76" y1="321.35" x2="175.76" y2="322.85" stroke="#1a1a1a" stroke-width="0.9"/>
<line x1="178.60" y1="321.35" x2="178.60" y2="322.85" stroke="#1a1a1a" stroke-width="0.9"/>
<line x1="181.00" y1="321.35" x2="181.00" y2="324.25" stroke="#1a1a1a" stroke-width="1.0"/>
<line x1="193.28" y1="321.35" x2="193.28" y2="322.85" stroke="#1a1a1a" stroke-width="0.9"/>
<line x1="199.30" y1="321.35" x2="199.30" y2="322.85" stroke="#1a1a1a" stroke-width="0.9"/>
<line x1="203.36" y1="321.35" x2="203.36" y2="322.85" stroke="#1a1a1a" stroke-width="0.9"/>
<line x1="206.20" y1="321.35" x2="206.20" y2="322.85" stroke="#1a1a1a" stroke-width="0.9"/>
<line x1="208.60" y1="321.35" x2="208.60" y2="324.25" stroke="#1a1a1a" stroke-width="1.0"/>
<text x="98.20" y="332.00" font-size="5.1" text-anchor="middle" fill="#333" stroke="#333">0.01</text>
<text x="125.80" y="332.00" font-size="5.1" text-anchor="middle" fill="#333" stroke="#333">0.1</text>
<text x="153.40" y="332.00" font-size="5.1" text-anchor="middle" fill="#333" stroke="#333">1</text>
<text x="181.00" y="332.00" font-size="5.1" text-anchor="middle" fill="#333" stroke="#333">10</text>
<text x="208.60" y="332.00" font-size="5.1" text-anchor="middle" fill="#333" stroke="#333">100</text>
<line x1="153.2" y1="300.0" x2="153.2" y2="320.75" stroke="#222" stroke-width="0.8" stroke-dasharray="0.9 1.1"/>
<line x1="159.60" y1="305.20" x2="194.70" y2="305.20" stroke="#404040" stroke-width="1.35"/>
<line x1="159.60" y1="303.80" x2="159.60" y2="306.60" stroke="#404040" stroke-width="1.1"/>
<line x1="194.70" y1="303.80" x2="194.70" y2="306.60" stroke="#404040" stroke-width="1.1"/>
<circle cx="176.90" cy="305.20" r="1.3" fill="#c8002a" stroke="#fff" stroke-width="0.3"/>
<line x1="111.60" y1="315.80" x2="151.80" y2="315.80" stroke="#404040" stroke-width="1.35"/>
<line x1="111.60" y1="314.40" x2="111.60" y2="317.20" stroke="#404040" stroke-width="1.1"/>
<line x1="151.80" y1="314.40" x2="151.80" y2="317.20" stroke="#404040" stroke-width="1.1"/>
<circle cx="132.40" cy="315.80" r="1.3" fill="#c8002a" stroke="#fff" stroke-width="0.3"/>
<line x1="118.30" y1="336.1" x2="128.50" y2="336.1" stroke="#1a1a1a" stroke-width="1.2"/>
<path d="M115.30 336.1 L120.50 333.75 L120.50 338.45 Z" fill="#1a1a1a"/>
<line x1="177.60" y1="336.1" x2="187.10" y2="336.1" stroke="#1a1a1a" stroke-width="1.2"/>
<path d="M190.10 336.1 L184.90 333.75 L184.90 338.45 Z" fill="#1a1a1a"/>
<text x="121.90" y="345.60" font-size="6.6" text-anchor="middle" font-weight="bold" fill="#222" stroke="#222" textLength="38.60" lengthAdjust="spacingAndGlyphs" stroke-width="0.2">Lower probability</text>
<text x="121.90" y="352.40" font-size="6.6" text-anchor="middle" font-weight="bold" fill="#222" stroke="#222" textLength="48.00" lengthAdjust="spacingAndGlyphs" stroke-width="0.2">of symptom response</text>
<text x="184.10" y="345.60" font-size="6.6" text-anchor="middle" font-weight="bold" fill="#222" stroke="#222" textLength="39.70" lengthAdjust="spacingAndGlyphs" stroke-width="0.2">Higher probability</text>
<text x="184.10" y="352.40" font-size="6.6" text-anchor="middle" font-weight="bold" fill="#222" stroke="#222" textLength="48.20" lengthAdjust="spacingAndGlyphs" stroke-width="0.2">of symptom response</text>
<text x="408.70" y="263.90" font-size="7.1" text-anchor="middle" stroke="#1a1a1a" stroke-width="0.06">Spleen Response at 6 months</text>
<text x="408.70" y="270.20" font-size="5.04" text-anchor="middle" stroke="#1a1a1a" stroke-width="0.02">Multivariate logistic regression analysis</text>
<text x="480.50" y="284.40" font-size="4.3" text-anchor="middle" fill="#333" stroke="#333" stroke-width="0.02">OR (95% CI)</text>
<text x="506.30" y="284.40" font-size="4.3" text-anchor="middle" font-style="italic" fill="#333" stroke="#333" stroke-width="0.02">P</text>
<text x="346.20" y="294.65" font-size="5.15" text-anchor="end" stroke="#1a1a1a" stroke-width="0.07"><tspan>BL splenomegaly &gt;10 cm below LCM</tspan></text>
<text x="480.50" y="293.75" font-size="4.35" text-anchor="middle" font-weight="bold" fill="#000" stroke="#000" textLength="29.88" lengthAdjust="spacingAndGlyphs" stroke-width="0.16">0.21 (0.04-0.85)</text>
<text x="506.30" y="293.75" font-size="4.35" text-anchor="middle" font-weight="bold" fill="#000" stroke="#000" textLength="12.84" lengthAdjust="spacingAndGlyphs" stroke-width="0.16">0.0283</text>
<text x="346.20" y="306.15" font-size="5.15" text-anchor="end" stroke="#1a1a1a" stroke-width="0.07"><tspan font-style="italic" font-size="5.22">ASXL1</tspan><tspan dy="-2.4" font-size="2.8" font-style="normal">WT</tspan></text>
<text x="480.50" y="305.25" font-size="4.35" text-anchor="middle" font-weight="bold" fill="#000" stroke="#000" textLength="29.88" lengthAdjust="spacingAndGlyphs" stroke-width="0.16">0.21 (0.07-0.90)</text>
<text x="506.30" y="305.25" font-size="4.35" text-anchor="middle" font-weight="bold" fill="#000" stroke="#000" textLength="12.84" lengthAdjust="spacingAndGlyphs" stroke-width="0.16">0.0333</text>
<text x="346.20" y="317.95" font-size="5.15" text-anchor="end" stroke="#1a1a1a" stroke-width="0.07"><tspan font-style="italic" font-size="5.22">RAS/CBL</tspan><tspan dy="-2.4" font-size="2.8" font-style="normal">WT</tspan></text>
<text x="480.50" y="317.05" font-size="4.35" text-anchor="middle" font-weight="bold" fill="#000" stroke="#000" textLength="29.88" lengthAdjust="spacingAndGlyphs" stroke-width="0.16">0.04 (0.01-0.46)</text>
<text x="506.30" y="317.05" font-size="4.35" text-anchor="middle" font-weight="bold" fill="#000" stroke="#000" textLength="12.84" lengthAdjust="spacingAndGlyphs" stroke-width="0.16">0.0061</text>
<line x1="352.6" y1="286.5" x2="352.6" y2="324.25" stroke="#1a1a1a" stroke-width="1.2"/>
<line x1="352.6" y1="321.35" x2="465.20000000000005" y2="321.35" stroke="#1a1a1a" stroke-width="1.2"/>
<line x1="349.60" y1="292.50" x2="352.6" y2="292.50" stroke="#1a1a1a" stroke-width="1.0"/>
<line x1="349.60" y1="304.00" x2="352.6" y2="304.00" stroke="#1a1a1a" stroke-width="1.0"/>
<line x1="349.60" y1="315.80" x2="352.6" y2="315.80" stroke="#1a1a1a" stroke-width="1.0"/>
<line x1="364.88" y1="321.35" x2="364.88" y2="322.85" stroke="#1a1a1a" stroke-width="0.9"/>
<line x1="370.90" y1="321.35" x2="370.90" y2="322.85" stroke="#1a1a1a" stroke-width="0.9"/>
<line x1="374.96" y1="321.35" x2="374.96" y2="322.85" stroke="#1a1a1a" stroke-width="0.9"/>
<line x1="377.80" y1="321.35" x2="377.80" y2="322.85" stroke="#1a1a1a" stroke-width="0.9"/>
<line x1="380.20" y1="321.35" x2="380.20" y2="324.25" stroke="#1a1a1a" stroke-width="1.0"/>
<line x1="392.48" y1="321.35" x2="392.48" y2="322.85" stroke="#1a1a1a" stroke-width="0.9"/>
<line x1="398.50" y1="321.35" x2="398.50" y2="322.85" stroke="#1a1a1a" stroke-width="0.9"/>
<line x1="402.56" y1="321.35" x2="402.56" y2="322.85" stroke="#1a1a1a" stroke-width="0.9"/>
<line x1="405.40" y1="321.35" x2="405.40" y2="322.85" stroke="#1a1a1a" stroke-width="0.9"/>
<line x1="407.80" y1="321.35" x2="407.80" y2="324.25" stroke="#1a1a1a" stroke-width="1.0"/>
<line x1="420.08" y1="321.35" x2="420.08" y2="322.85" stroke="#1a1a1a" stroke-width="0.9"/>
<line x1="426.10" y1="321.35" x2="426.10" y2="322.85" stroke="#1a1a1a" stroke-width="0.9"/>
<line x1="430.16" y1="321.35" x2="430.16" y2="322.85" stroke="#1a1a1a" stroke-width="0.9"/>
<line x1="433.00" y1="321.35" x2="433.00" y2="322.85" stroke="#1a1a1a" stroke-width="0.9"/>
<line x1="435.40" y1="321.35" x2="435.40" y2="324.25" stroke="#1a1a1a" stroke-width="1.0"/>
<line x1="447.68" y1="321.35" x2="447.68" y2="322.85" stroke="#1a1a1a" stroke-width="0.9"/>
<line x1="453.70" y1="321.35" x2="453.70" y2="322.85" stroke="#1a1a1a" stroke-width="0.9"/>
<line x1="457.76" y1="321.35" x2="457.76" y2="322.85" stroke="#1a1a1a" stroke-width="0.9"/>
<line x1="460.60" y1="321.35" x2="460.60" y2="322.85" stroke="#1a1a1a" stroke-width="0.9"/>
<line x1="463.00" y1="321.35" x2="463.00" y2="324.25" stroke="#1a1a1a" stroke-width="1.0"/>
<text x="352.60" y="332.00" font-size="5.1" text-anchor="middle" fill="#333" stroke="#333">0.01</text>
<text x="380.20" y="332.00" font-size="5.1" text-anchor="middle" fill="#333" stroke="#333">0.1</text>
<text x="407.80" y="332.00" font-size="5.1" text-anchor="middle" fill="#333" stroke="#333">1</text>
<text x="435.40" y="332.00" font-size="5.1" text-anchor="middle" fill="#333" stroke="#333">10</text>
<text x="463.00" y="332.00" font-size="5.1" text-anchor="middle" fill="#333" stroke="#333">100</text>
<line x1="407.6" y1="287.0" x2="407.6" y2="320.75" stroke="#222" stroke-width="0.8" stroke-dasharray="0.9 1.1"/>
<line x1="368.80" y1="292.50" x2="405.70" y2="292.50" stroke="#404040" stroke-width="1.35"/>
<line x1="368.80" y1="291.10" x2="368.80" y2="293.90" stroke="#404040" stroke-width="1.1"/>
<line x1="405.70" y1="291.10" x2="405.70" y2="293.90" stroke="#404040" stroke-width="1.1"/>
<circle cx="388.80" cy="292.50" r="1.3" fill="#c8002a" stroke="#fff" stroke-width="0.3"/>
<line x1="375.50" y1="304.00" x2="406.20" y2="304.00" stroke="#404040" stroke-width="1.35"/>
<line x1="375.50" y1="302.60" x2="375.50" y2="305.40" stroke="#404040" stroke-width="1.1"/>
<line x1="406.20" y1="302.60" x2="406.20" y2="305.40" stroke="#404040" stroke-width="1.1"/>
<circle cx="388.80" cy="304.00" r="1.3" fill="#c8002a" stroke="#fff" stroke-width="0.3"/>
<line x1="352.60" y1="315.80" x2="373.80" y2="315.80" stroke="#404040" stroke-width="1.35"/>
<line x1="352.60" y1="314.40" x2="352.60" y2="317.20" stroke="#404040" stroke-width="1.1"/>
<line x1="373.80" y1="314.40" x2="373.80" y2="317.20" stroke="#404040" stroke-width="1.1"/>
<circle cx="368.80" cy="315.80" r="1.3" fill="#c8002a" stroke="#fff" stroke-width="0.3"/>
<line x1="372.80" y1="336.1" x2="382.30" y2="336.1" stroke="#1a1a1a" stroke-width="1.2"/>
<path d="M369.80 336.1 L375.00 333.75 L375.00 338.45 Z" fill="#1a1a1a"/>
<line x1="432.00" y1="336.1" x2="441.60" y2="336.1" stroke="#1a1a1a" stroke-width="1.2"/>
<path d="M444.60 336.1 L439.40 333.75 L439.40 338.45 Z" fill="#1a1a1a"/>
<text x="376.00" y="345.60" font-size="6.6" text-anchor="middle" font-weight="bold" fill="#222" stroke="#222" textLength="39.00" lengthAdjust="spacingAndGlyphs" stroke-width="0.2">Lower probability</text>
<text x="376.00" y="352.40" font-size="6.6" text-anchor="middle" font-weight="bold" fill="#222" stroke="#222" textLength="42.70" lengthAdjust="spacingAndGlyphs" stroke-width="0.2">of spleen response</text>
<text x="438.50" y="345.60" font-size="6.6" text-anchor="middle" font-weight="bold" fill="#222" stroke="#222" textLength="40.00" lengthAdjust="spacingAndGlyphs" stroke-width="0.2">Higher probability</text>
<text x="438.50" y="352.40" font-size="6.6" text-anchor="middle" font-weight="bold" fill="#222" stroke="#222" textLength="42.20" lengthAdjust="spacingAndGlyphs" stroke-width="0.2">of spleen response</text>
</g></svg></body></html>
